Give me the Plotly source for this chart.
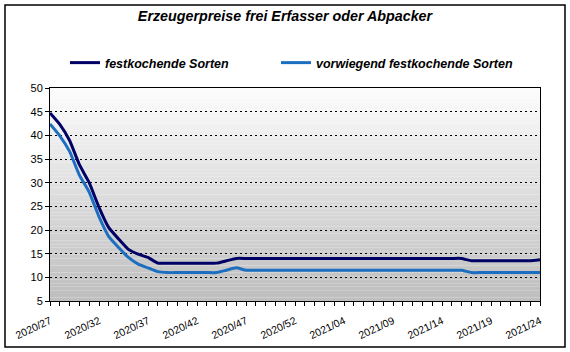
import plotly.graph_objects as go

weeks = [f"2020/{w}" for w in range(27, 54)] + [f"2021/{w:02d}" for w in range(1, 25)]
label_every = 5
tick_text = [w if i % label_every == 0 else "" for i, w in enumerate(weeks)]

festkochend = [44.7, 42.3, 38.9, 33.8, 30.0, 24.8, 20.5, 18.1, 15.9, 14.9, 14.2, 13.0,
               13.0, 13.0, 13.0, 13.0, 13.0, 13.0, 13.5, 14.0,
               14.0, 14.0, 14.0, 14.0, 14.0, 14.0, 14.0, 14.0, 14.0, 14.0, 14.0, 14.0,
               14.0, 14.0, 14.0, 14.0, 14.0, 14.0, 14.0, 14.0, 14.0, 14.0, 14.0,
               13.5, 13.5, 13.5, 13.5, 13.5, 13.5, 13.5, 13.7]
vorwiegend = [42.4, 39.9, 36.6, 31.6, 28.0, 22.8, 18.6, 16.3, 14.2, 12.8, 12.0, 11.2,
              11.0, 11.0, 11.0, 11.0, 11.0, 11.0, 11.5, 12.0, 11.5,
              11.5, 11.5, 11.5, 11.5, 11.5, 11.5, 11.5, 11.5, 11.5, 11.5, 11.5,
              11.5, 11.5, 11.5, 11.5, 11.5, 11.5, 11.5, 11.5, 11.5, 11.5, 11.5,
              11.0, 11.0, 11.0, 11.0, 11.0, 11.0, 11.0, 11.0]
series_names = ["festkochende Sorten", "vorwiegend festkochende Sorten"]
series_colors = ["#000066", "#1c6fc0"]

FONT = "Liberation Sans, Arial, sans-serif"
W, H = 570, 352
ML, MR, MT, MB = 50, 30, 88, 51
PW, PH = W - ML - MR, H - MT - MB

fig = go.Figure()
legend_ids = ["legend", "legend2"]
for name, vals, col, lg in zip(series_names, [festkochend, vorwiegend], series_colors, legend_ids):
    fig.add_trace(go.Scatter(x=weeks, y=vals, mode="lines", name=f"<b><i>{name}</i></b>",
                             legend=lg,
                             line=dict(color=col, width=3, shape="spline", smoothing=0.4)))

# gradient background bands
ymin, ymax = 5, 50
nb = 60
shapes = []
for k in range(nb):
    t = k / (nb - 1)
    c0, c1 = (252, 252, 252), (190, 190, 190)
    c = tuple(round(c0[j] + (c1[j] - c0[j]) * t) for j in range(3))
    y1 = ymax - (ymax - ymin) * k / nb
    y0 = ymax - (ymax - ymin) * (k + 1) / nb
    shapes.append(dict(type="rect", xref="paper", yref="y", x0=0, x1=1, y0=y0, y1=y1,
                       fillcolor=f"rgb{c}", line=dict(width=0), layer="below"))
# outer chart border
shapes.append(dict(type="rect", xref="paper", yref="paper",
                   x0=(5 - ML) / PW, x1=(565 - ML) / PW,
                   y0=(H - MB - 347) / PH, y1=(H - MB - 5) / PH,
                   line=dict(color="black", width=1.5), layer="above"))

legend_common = dict(orientation="h", xanchor="left", yanchor="middle",
                     y=(H - MB - 63) / PH,
                     font=dict(family=FONT, size=12.5, color="black"),
                     bgcolor="rgba(0,0,0,0)", itemwidth=30)

fig.update_layout(
    width=W, height=H,
    margin=dict(l=ML, r=MR, t=MT, b=MB),
    paper_bgcolor="white", plot_bgcolor="white",
    font=dict(family=FONT, color="black", size=11),
    title=dict(text="<b><i>Erzeugerpreise frei Erfasser oder Abpacker</i></b>",
               x=0.5, xanchor="center", y=1 - 16 / H, yanchor="middle", yref="container",
               font=dict(family=FONT, size=14.3, color="black")),
    showlegend=True,
    legend=dict(legend_common, x=(65 - ML) / PW),
    legend2=dict(legend_common, x=(276 - ML) / PW),
    shapes=shapes,
    xaxis=dict(type="category", range=[0, len(weeks) - 1],
               tickmode="array", tickvals=weeks, ticktext=tick_text,
               tickangle=-25, ticks="outside", ticklen=4, tickcolor="black",
               ticklabelstandoff=5,
               tickfont=dict(family=FONT, size=10.5, color="black"),
               showline=True, linecolor="black", linewidth=1, mirror=True,
               showgrid=False, zeroline=False),
    yaxis=dict(range=[ymin, ymax], dtick=5, tick0=5,
               ticks="outside", ticklen=4, tickcolor="black",
               tickfont=dict(family=FONT, size=11, color="black"),
               showline=True, linecolor="black", linewidth=1, mirror=True,
               showgrid=True, gridcolor="black", gridwidth=1, griddash="2px,3px",
               zeroline=False),
)

fig.write_html("out.html")
